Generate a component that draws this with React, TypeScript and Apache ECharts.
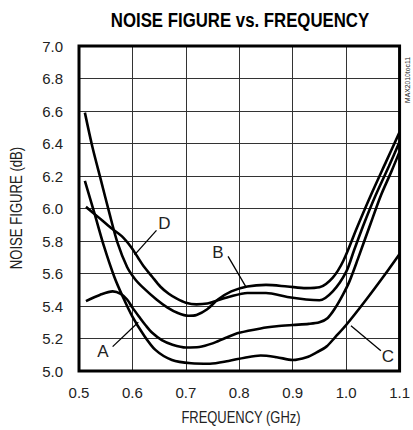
import React, { useEffect, useRef } from "react";
import * as echarts from "echarts";

const FONT = '"Liberation Sans", Arial, sans-serif';

const xTicks = [0.5, 0.6, 0.7, 0.8, 0.9, 1.0, 1.1];
const yTicks = [5.0, 5.2, 5.4, 5.6, 5.8, 6.0, 6.2, 6.4, 6.6, 6.8, 7.0];

const freqA = [0.513, 0.539, 0.563, 0.578, 0.59, 0.6, 0.6125, 0.625, 0.637, 0.655, 0.675, 0.7, 0.725, 0.75, 0.775, 0.8, 0.84, 0.87, 0.9, 0.93, 0.95, 0.965, 0.98, 0.994, 1.006, 1.022, 1.045, 1.065, 1.085, 1.1];
const nfA = [5.43, 5.468, 5.49, 5.475, 5.44, 5.39, 5.334, 5.28, 5.235, 5.19, 5.162, 5.145, 5.148, 5.17, 5.205, 5.235, 5.262, 5.275, 5.283, 5.29, 5.3, 5.325, 5.39, 5.47, 5.55, 5.69, 5.9, 6.08, 6.23, 6.35];

const freqB = [0.511, 0.525, 0.541, 0.557, 0.572, 0.59, 0.605, 0.621, 0.645, 0.665, 0.685, 0.705, 0.72, 0.74, 0.76, 0.785, 0.815, 0.85, 0.89, 0.925, 0.95, 0.975, 0.995, 1.02, 1.046, 1.075, 1.1];
const nfB = [6.59, 6.38, 6.175, 5.97, 5.79, 5.64, 5.565, 5.51, 5.44, 5.392, 5.357, 5.34, 5.345, 5.38, 5.44, 5.49, 5.52, 5.53, 5.52, 5.51, 5.515, 5.575, 5.68, 5.88, 6.08, 6.29, 6.47];

const freqC = [0.511, 0.529, 0.547, 0.566, 0.582, 0.6, 0.619, 0.643, 0.674, 0.71, 0.745, 0.78, 0.81, 0.84, 0.87, 0.9, 0.926, 0.945, 0.963, 0.98, 1.0, 1.037, 1.074, 1.1];
const nfC = [6.17, 5.97, 5.765, 5.58, 5.457, 5.334, 5.232, 5.13, 5.068, 5.048, 5.045, 5.062, 5.082, 5.095, 5.085, 5.068, 5.085, 5.115, 5.15, 5.21, 5.283, 5.437, 5.6, 5.72];

const freqD = [0.513, 0.535, 0.56, 0.58, 0.597, 0.61, 0.621, 0.637, 0.652, 0.668, 0.683, 0.7, 0.72, 0.74, 0.755, 0.78, 0.815, 0.85, 0.89, 0.925, 0.95, 0.975, 1.0, 1.015, 1.035, 1.055, 1.08, 1.1];
const nfD = [6.01, 5.95, 5.88, 5.83, 5.765, 5.7, 5.645, 5.58, 5.52, 5.475, 5.445, 5.42, 5.41, 5.415, 5.43, 5.455, 5.48, 5.48, 5.455, 5.44, 5.435, 5.49, 5.61, 5.745, 5.92, 6.08, 6.26, 6.41];

// curve labels (data coordinates)
const labelNames = ["A", "B", "C", "D"];
const labelFreq = [0.545, 0.76, 1.078, 0.66];
const labelNf = [5.12, 5.73, 5.09, 5.91];
// arrows: start (near label) -> end (on curve)
const arrowFromFreq = [0.563, 0.779, 1.065, 0.645];
const arrowFromNf = [5.15, 5.705, 5.125, 5.865];
const arrowToFreq = [0.611, 0.813, 1.009, 0.604];
const arrowToNf = [5.3, 5.515, 5.278, 5.715];

const zip = (xs: number[], ys: number[]) => xs.map((x, i) => [x, ys[i]]);

export default function App() {
  const ref = useRef<HTMLDivElement>(null);

  useEffect(() => {
    if (!ref.current) return;
    const chart = echarts.init(ref.current, null, { renderer: "svg" });

    const curve = (name: string, xs: number[], ys: number[], extra: any = {}) => ({
      name,
      type: "line",
      data: zip(xs, ys),
      showSymbol: false,
      smooth: 0.3,
      silent: true,
      lineStyle: { color: "#000", width: 2.6 },
      z: 3,
      ...extra,
    });

    const markLineData = labelNames.map((_, i) => [
      { coord: [arrowFromFreq[i], arrowFromNf[i]] },
      { coord: [arrowToFreq[i], arrowToNf[i]] },
    ]);
    const markPointData = labelNames.map((n, i) => ({
      name: n,
      coord: [labelFreq[i], labelNf[i]],
    }));

    chart.setOption({
      animation: false,
      grid: {
        left: 79,
        right: 8,
        top: 46,
        bottom: 59,
        show: true,
        borderColor: "#000",
        borderWidth: 3,
        backgroundColor: "transparent",
        z: 4,
      },
      xAxis: {
        type: "value",
        min: xTicks[0],
        max: xTicks[xTicks.length - 1],
        interval: 0.1,
        axisLine: { show: false },
        axisTick: { show: false },
        splitLine: { show: true, lineStyle: { color: "#333", width: 1 } },
        axisLabel: {
          formatter: (v: number) => v.toFixed(1),
          fontFamily: FONT,
          fontSize: 15,
          color: "#222",
          margin: 14,
        },
      },
      yAxis: {
        type: "value",
        min: yTicks[0],
        max: yTicks[yTicks.length - 1],
        interval: 0.2,
        axisLine: { show: false },
        axisTick: { show: false },
        splitLine: { show: true, lineStyle: { color: "#333", width: 1 } },
        axisLabel: {
          formatter: (v: number) => v.toFixed(1),
          fontFamily: FONT,
          fontSize: 15,
          color: "#222",
          margin: 16,
        },
      },
      series: [
        curve("A", freqA, nfA),
        curve("B", freqB, nfB),
        curve("D", freqD, nfD),
        curve("C", freqC, nfC, {
          markLine: {
            silent: true,
            symbol: ["none", "arrow"],
            symbolSize: [0, 11],
            label: { show: false },
            lineStyle: { color: "#000", width: 1.3, type: "solid" },
            emphasis: { disabled: true },
            data: markLineData,
          },
          markPoint: {
            silent: true,
            symbol: "circle",
            symbolSize: 1,
            itemStyle: { color: "rgba(0,0,0,0)" },
            label: {
              show: true,
              position: "inside",
              formatter: "{b}",
              color: "#222",
              fontSize: 17,
              fontFamily: FONT,
            },
            data: markPointData,
          },
        }),
      ],
      graphic: [
        {
          type: "text",
          x: 240,
          y: 20,
          scaleX: 0.8,
          style: {
            text: "NOISE FIGURE vs. FREQUENCY",
            align: "center",
            verticalAlign: "middle",
            fontFamily: FONT,
            fontWeight: "bold",
            fontSize: 21,
            fill: "#000",
          },
        },
        {
          type: "text",
          x: 241,
          y: 418,
          scaleX: 0.81,
          style: {
            text: "FREQUENCY (GHz)",
            align: "center",
            verticalAlign: "middle",
            fontFamily: FONT,
            fontSize: 16,
            fill: "#222",
          },
        },
        {
          type: "text",
          x: 17,
          y: 208,
          rotation: Math.PI / 2,
          scaleX: 0.82,
          style: {
            text: "NOISE FIGURE (dB)",
            align: "center",
            verticalAlign: "middle",
            fontFamily: FONT,
            fontSize: 16,
            fill: "#222",
          },
        },
        {
          type: "text",
          x: 407.5,
          y: 80,
          rotation: Math.PI / 2,
          scaleX: 0.85,
          style: {
            text: "MAX2010toc11",
            align: "center",
            verticalAlign: "middle",
            fontFamily: FONT,
            fontSize: 8,
            fill: "#222",
          },
        },
      ],
    });

    return () => chart.dispose();
  }, []);

  return (
    <div
      ref={ref}
      style={{ position: "fixed", left: 0, top: 0, width: 413, height: 430, background: "#fff" }}
    />
  );
}
